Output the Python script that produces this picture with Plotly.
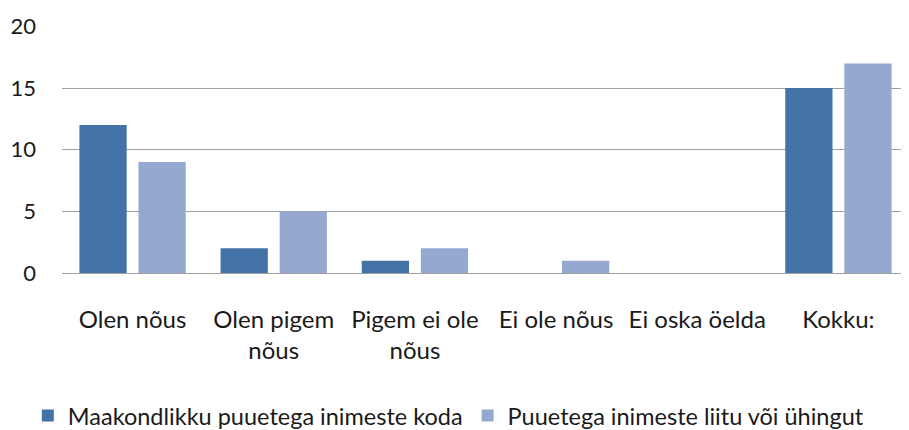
import plotly.graph_objects as go

categories = ["Olen nõus", "Olen pigem<br>nõus", "Pigem ei ole<br>nõus", "Ei ole nõus", "Ei oska öelda", "Kokku:"]
series_names = ["Maakondlikku puuetega inimeste koda", "Puuetega inimeste liitu või ühingut"]
values_a = [12, 2, 1, 0, 0, 15]
values_b = [9, 5, 2, 1, 0, 17]
y_ticks = [0, 5, 10, 15, 20]

colors = ["#4373A6", "#95A9D0"]
font_family = "Lato, 'Open Sans', sans-serif"

fig = go.Figure()
for name, vals, col in zip(series_names, [values_a, values_b], colors):
    fig.add_trace(go.Bar(
        x=categories, y=vals, name=name,
        marker=dict(color=col, line=dict(width=0)),
    ))

fig.update_layout(
    width=901, height=422,
    margin=dict(l=54, r=0, t=18, b=157, autoexpand=False),
    plot_bgcolor="white", paper_bgcolor="white",
    barmode="group", bargap=0.163, bargroupgap=0.2,
    font=dict(family=font_family, size=24, color="#1a1a1a"),
    showlegend=True,
    legend=dict(orientation="h", xref="container", x=0.022, xanchor="left",
                yref="container", y=0.034, yanchor="middle",
                font=dict(size=23.5), itemwidth=30, traceorder="normal"),
)
fig.update_xaxes(showline=True, linecolor="#A0A0A0", linewidth=1, ticks="", automargin=False,
                 tickfont=dict(size=24), showgrid=False, ticklabelstandoff=25)
fig.update_yaxes(range=[0, 20.04], tickvals=y_ticks, showgrid=True, gridcolor="#A0A0A0",
                 gridwidth=1, zeroline=False, showline=False, ticks="", automargin=False,
                 tickfont=dict(size=22), ticklabelstandoff=25)

fig.write_html("out.html")
